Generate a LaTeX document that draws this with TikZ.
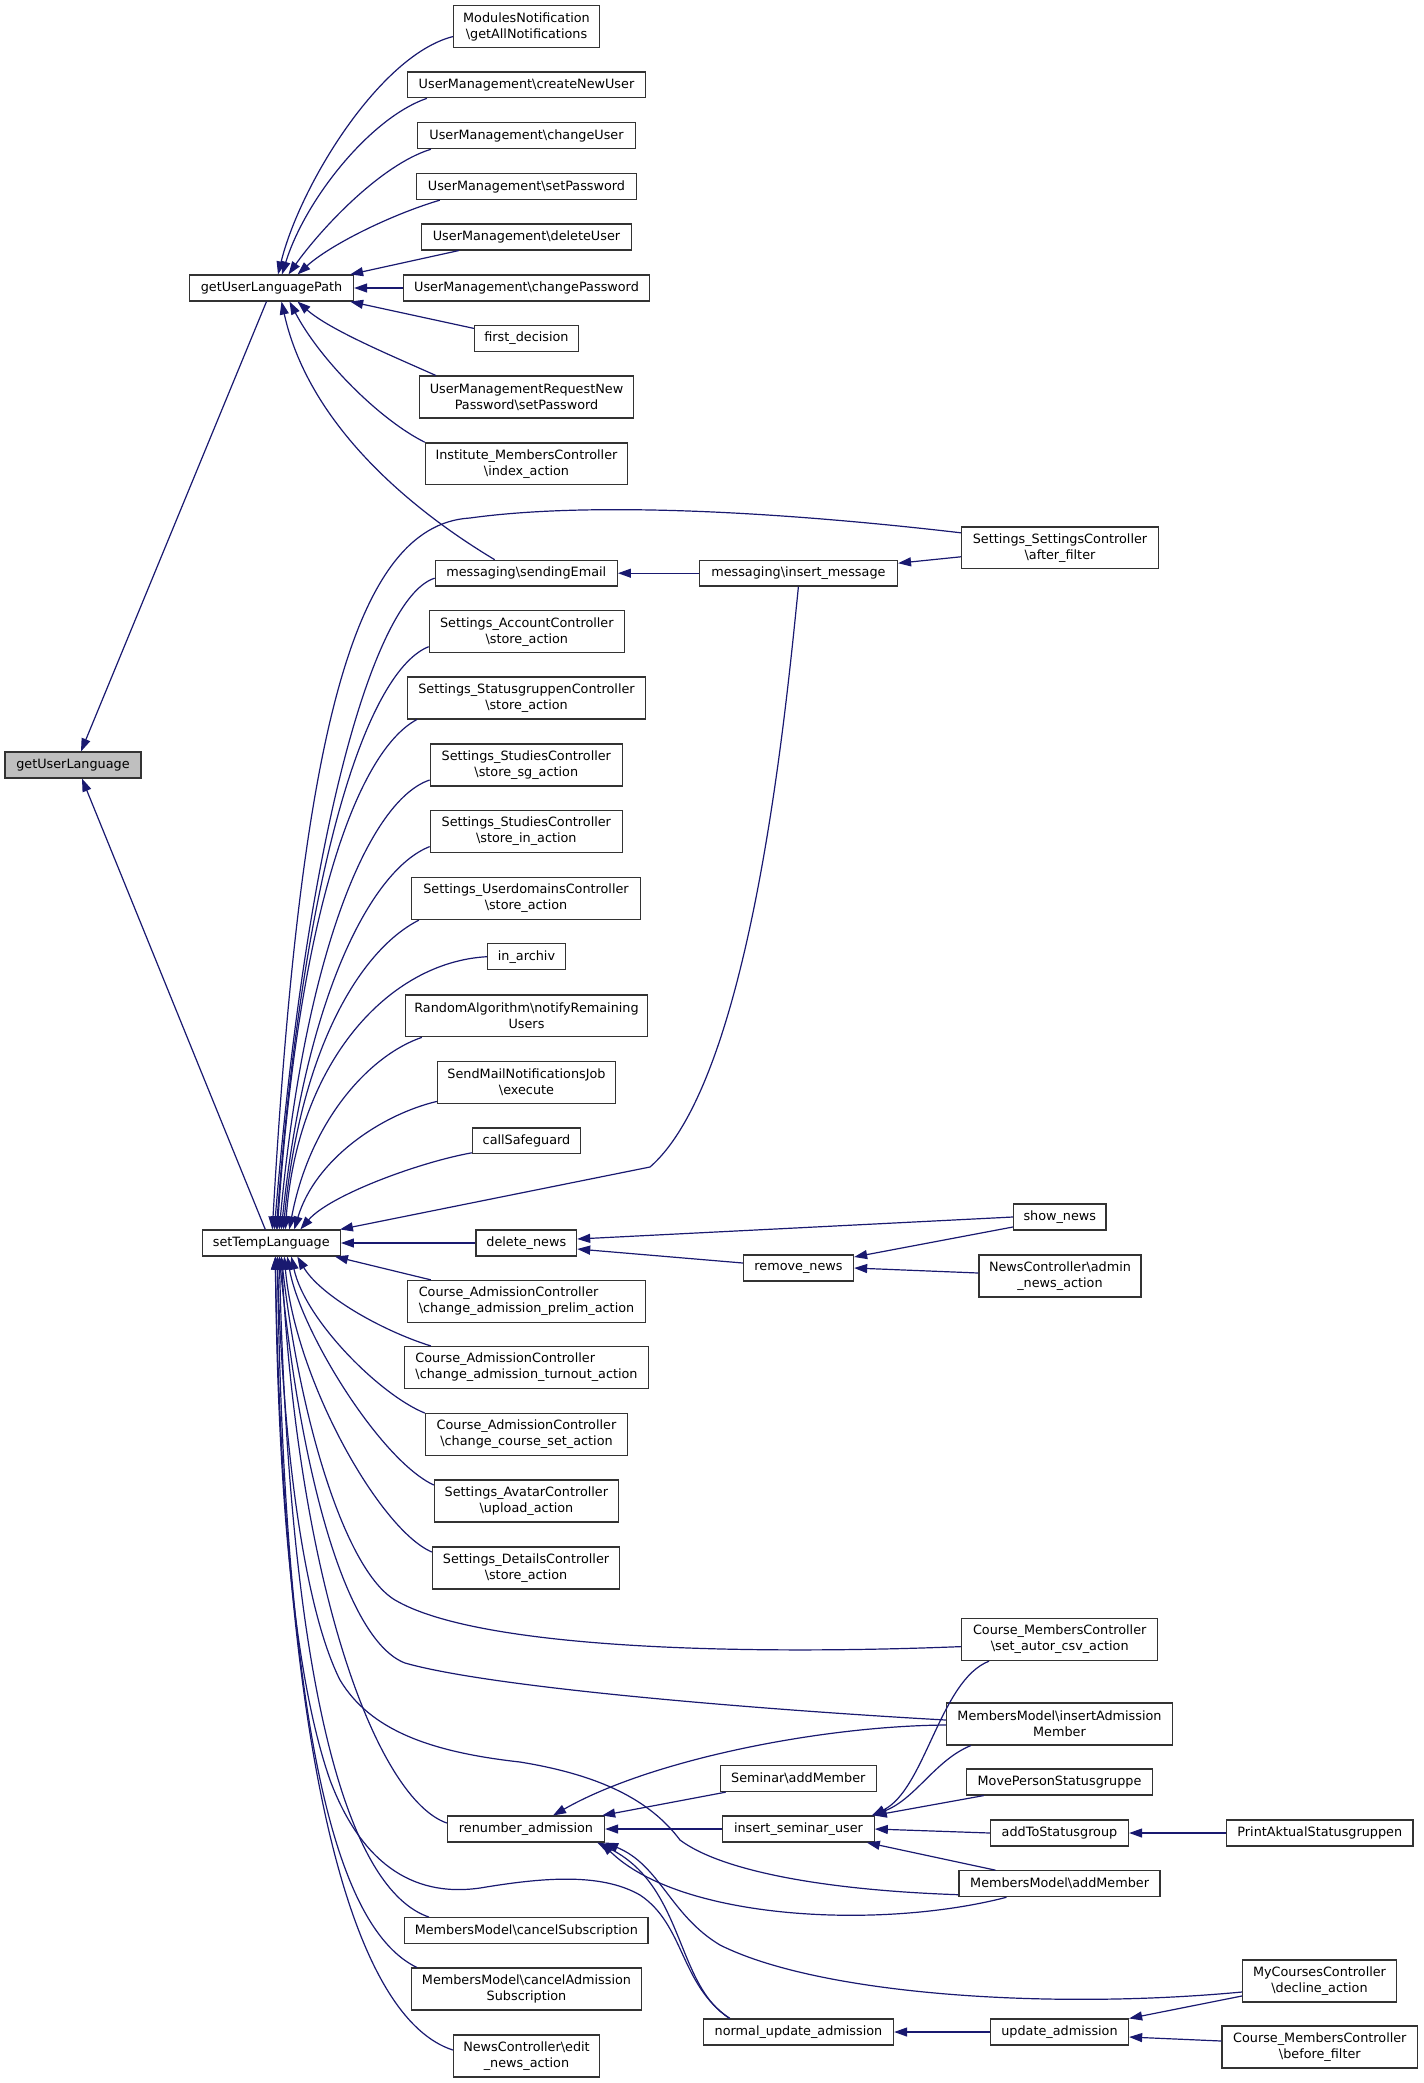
\documentclass[tikz,border=0pt]{standalone}
\usepackage{fontspec}
\setmainfont{DejaVu Sans}
\usetikzlibrary{arrows.meta}
\definecolor{edgec}{HTML}{191970}
\definecolor{rootfill}{HTML}{BFBFBF}
\definecolor{boxline}{HTML}{333333}
\newcommand{\bsl}{\textbackslash}
\begin{document}
\begin{tikzpicture}[x=1pt,y=-1pt,
  box/.style={draw=boxline, line width=1.3pt, fill=white, inner sep=0pt,
    minimum height=25.8pt, font=\fontsize{12.8}{16}\selectfont, align=center},
  dbl/.style={box, minimum height=41.8pt},
  e/.style={draw=edgec, line width=1.2pt, -{Triangle[length=13pt,width=9pt]}}]
\fill[white] (0,0) rectangle (1424,2083);
\useasboundingbox (0,0) rectangle (1424,2083);

% column 0/1
\node[box, fill=rootfill, minimum width=136] (gul) at (73,765) {getUserLanguage};
\node[box, minimum width=164] (gulp) at (271.5,288) {getUserLanguagePath};
\node[box, minimum width=138] (stl) at (271.3,1243) {setTempLanguage};

% column 2
\node[dbl, minimum width=146] (mn) at (526.5,26.6) {ModulesNotification\\\bsl getAllNotifications};
\node[box, minimum width=238] (cnu) at (526.5,84.8) {UserManagement\bsl createNewUser};
\node[box, minimum width=218] (cu) at (526.5,135.7) {UserManagement\bsl changeUser};
\node[box, minimum width=220] (sp) at (526.5,186.6) {UserManagement\bsl setPassword};
\node[box, minimum width=210] (du) at (526.5,237) {UserManagement\bsl deleteUser};
\node[box, minimum width=246] (cp) at (526.5,288) {UserManagement\bsl changePassword};
\node[box, minimum width=104] (fd) at (526.5,338.4) {first\_decision};
\node[dbl, minimum width=214] (umr) at (526.5,397) {UserManagementRequestNew\\Password\bsl setPassword};
\node[dbl, minimum width=202] (imc) at (526.5,463.8) {Institute\_MembersController\\\bsl index\_action};
\node[box, minimum width=182] (se) at (526.3,573.2) {messaging\bsl sendingEmail};
\node[dbl, minimum width=195] (sac) at (526.8,631.7) {Settings\_AccountController\\\bsl store\_action};
\node[dbl, minimum width=238] (ssc) at (526.5,698) {Settings\_StatusgruppenController\\\bsl store\_action};
\node[dbl, minimum width=192] (ssg) at (526.3,765) {Settings\_StudiesController\\\bsl store\_sg\_action};
\node[dbl, minimum width=192] (sin) at (526.3,831.6) {Settings\_StudiesController\\\bsl store\_in\_action};
\node[dbl, minimum width=229] (sud) at (526,898.6) {Settings\_UserdomainsController\\\bsl store\_action};
\node[box, minimum width=78] (ia) at (526.5,956.7) {in\_archiv};
\node[dbl, minimum width=242] (ra) at (526.5,1015.8) {RandomAlgorithm\bsl notifyRemaining\\Users};
\node[dbl, minimum width=178] (smn) at (526.5,1082.4) {SendMailNotificationsJob\\\bsl execute};
\node[box, minimum width=108] (cs) at (526.5,1140.8) {callSafeguard};
\node[box, minimum width=100.5] (dn) at (526.3,1243) {delete\_news};
\node[dbl, minimum width=238, align=left] (cap) at (526.5,1301.4) {Course\_AdmissionController\\\bsl change\_admission\_prelim\_action};
\node[dbl, minimum width=244, align=left] (cat) at (526.5,1367.5) {Course\_AdmissionController\\\bsl change\_admission\_turnout\_action};
\node[dbl, minimum width=202] (ccs) at (526.5,1434.6) {Course\_AdmissionController\\\bsl change\_course\_set\_action};
\node[dbl, minimum width=184] (sav) at (526.4,1501) {Settings\_AvatarController\\\bsl upload\_action};
\node[dbl, minimum width=187] (sdc) at (526,1568) {Settings\_DetailsController\\\bsl store\_action};
\node[box, minimum width=157] (ra2) at (526,1829) {renumber\_admission};
\node[box, minimum width=243.5] (mcs) at (526.3,1930.6) {MembersModel\bsl cancelSubscription};
\node[dbl, minimum width=230] (mcas) at (526.5,1989) {MembersModel\bsl cancelAdmission\\Subscription};
\node[dbl, minimum width=146] (ned) at (526.5,2056) {NewsController\bsl edit\\\_news\_action};

% column 3
\node[box, minimum width=198] (im) at (798.4,573.2) {messaging\bsl insert\_message};
\node[box, minimum width=110] (rn) at (798.5,1268) {remove\_news};
\node[box, minimum width=156] (sam) at (798.3,1778.6) {Seminar\bsl addMember};
\node[box, minimum width=151.4] (isu) at (798.5,1829) {insert\_seminar\_user};
\node[box, minimum width=190] (nua) at (798.5,2032) {normal\_update\_admission};

% column 4
\node[dbl, minimum width=197] (af) at (1060,547.8) {Settings\_SettingsController\\\bsl after\_filter};
\node[box, minimum width=92.6] (sn) at (1059.8,1217) {show\_news};
\node[dbl, minimum width=162] (ana) at (1060,1276) {NewsController\bsl admin\\\_news\_action};
\node[dbl, minimum width=196] (sac2) at (1059.7,1639.6) {Course\_MembersController\\\bsl set\_autor\_csv\_action};
\node[dbl, minimum width=226] (iam) at (1059.5,1724) {MembersModel\bsl insertAdmission\\Member};
\node[box, minimum width=186] (mps) at (1059.5,1782) {MovePersonStatusgruppe};
\node[box, minimum width=138] (ats) at (1059.5,1833) {addToStatusgroup};
\node[box, minimum width=201] (mam) at (1059.6,1883.7) {MembersModel\bsl addMember};
\node[box, minimum width=138] (ua) at (1059.5,2032) {update\_admission};

% column 5
\node[box, minimum width=186.6] (pas) at (1319.8,1833) {PrintAktualStatusgruppen};
\node[dbl, minimum width=154] (mcd) at (1319.5,1981) {MyCoursesController\\\bsl decline\_action};
\node[dbl, minimum width=195.5] (cmb) at (1319.8,2047) {Course\_MembersController\\\bsl before\_filter};

% edges to getUserLanguage
\draw[e] ([xshift=-5]gulp.south) -- ([xshift=8]gul.north);
\draw[e] ([xshift=-6]stl.north) -- ([xshift=9]gul.south);

% edges to getUserLanguagePath
\draw[e] ([yshift=-10]mn.west) .. controls (380,55) and (300,185) .. ([xshift=6.5]gulp.north);
\draw[e] ([xshift=20]cnu.south west) .. controls (370,118) and (305,200) .. ([xshift=10.5]gulp.north);
\draw[e] ([xshift=14]cu.south west) .. controls (380,165) and (320,230) .. ([xshift=17]gulp.north);
\draw[e] ([xshift=24]sp.south west) .. controls (390,215) and (330,245) .. ([xshift=26]gulp.north);
\draw[e] ([xshift=38]du.south west) -- ([xshift=-4]gulp.north east);
\draw[e] (cp.west) -- (gulp.east);
\draw[e] ([yshift=10]fd.west) -- ([xshift=-4]gulp.south east);
\draw[e] ([xshift=17]umr.north west) .. controls (390,355) and (330,330) .. ([xshift=26]gulp.south);
\draw[e] (imc.north west) .. controls (380,420) and (320,360) .. ([xshift=18]gulp.south);
\draw[e] ([xshift=60]se.north west) .. controls (420,515) and (310,430) .. ([xshift=10]gulp.south);

% messaging
\draw[e] (im.west) -- (se.east);
\draw[e] ([yshift=-9]af.west) -- ([yshift=10]im.east);

% edges to setTempLanguage from above
\draw[e] ([yshift=15]af.west) .. controls (800,514) and (600,500) .. (470,518) .. controls (350,525) and (300,750) .. ([xshift=1]stl.north);
\draw[e] ([yshift=-5]se.west) .. controls (380,595) and (310,800) .. ([xshift=3]stl.north);
\draw[e] ([yshift=-15]sac.west) .. controls (370,670) and (305,850) .. ([xshift=5]stl.north);
\draw[e] ([xshift=10]ssc.south west) .. controls (360,750) and (300,900) .. ([xshift=6]stl.north);
\draw[e] ([yshift=-15]ssg.west) .. controls (370,800) and (305,950) .. ([xshift=8]stl.north);
\draw[e] ([yshift=-15]sin.west) .. controls (370,870) and (305,1000) .. ([xshift=10]stl.north);
\draw[e] ([xshift=8]sud.south west) .. controls (360,950) and (300,1050) .. ([xshift=12]stl.north);
\draw[e] (ia.west) .. controls (390,962) and (298,1060) .. ([xshift=14]stl.north);
\draw[e] ([xshift=17]ra.south west) .. controls (370,1055) and (310,1120) .. ([xshift=18]stl.north);
\draw[e] ([yshift=-19]smn.west) .. controls (380,1115) and (315,1160) .. ([xshift=23]stl.north);
\draw[e] ([yshift=-12]cs.west) .. controls (420,1162) and (330,1195) .. ([xshift=29]stl.north);
\draw[e] (im.south) .. controls (785,720) and (750,1080) .. (650,1167) -- ([xshift=-1]stl.north east);
\draw[e] (dn.west) -- (stl.east);

% edges to setTempLanguage from below
\draw[e] ([xshift=24]cap.north west) -- ([xshift=-6]stl.south east);
\draw[e] ([xshift=27]cat.north west) .. controls (380,1330) and (320,1295) .. ([xshift=26]stl.south);
\draw[e] (ccs.north west) .. controls (380,1395) and (305,1320) .. ([xshift=20]stl.south);
\draw[e] ([yshift=16]sav.west) .. controls (380,1460) and (300,1330) .. ([xshift=16]stl.south);
\draw[e] ([yshift=16]sdc.west) .. controls (380,1530) and (295,1380) .. ([xshift=13]stl.south);
\draw[e] ([yshift=-7]sac2.west) .. controls (750,1655) and (480,1650) .. (395,1600) .. controls (345,1570) and (300,1420) .. ([xshift=10]stl.south);
\draw[e] ([yshift=4]iam.west) .. controls (800,1712) and (500,1690) .. (405,1663) .. controls (345,1640) and (300,1470) .. ([xshift=8]stl.south);
\draw[e] ([yshift=-11]mam.west) .. controls (820,1890) and (720,1870) .. (680,1840) .. controls (650,1800) and (600,1775) .. (520,1762) .. controls (430,1752) and (370,1730) .. (340,1680) .. controls (300,1600) and (282,1420) .. ([xshift=6]stl.south);
\draw[e] ([yshift=6]ra2.west) .. controls (380,1800) and (300,1600) .. ([xshift=10]stl.south);
\draw[e] ([xshift=27]nua.north west) .. controls (680,1985) and (685,1925) .. (640,1895) .. controls (600,1872) and (540,1878) .. (480,1888) .. controls (410,1898) and (360,1860) .. (330,1780) .. controls (295,1680) and (278,1500) .. ([xshift=4]stl.south);
\draw[e] ([xshift=25]mcs.north west) .. controls (350,1890) and (290,1700) .. ([xshift=8]stl.south);
\draw[e] ([xshift=6]mcas.north west) .. controls (340,1930) and (285,1750) .. ([xshift=6]stl.south);
\draw[e] ([yshift=6]ned.west) .. controls (360,2020) and (285,1800) .. ([xshift=4]stl.south);

% news
\draw[e] (sn.west) -- ([yshift=4]dn.east);
\draw[e] ([yshift=5]rn.west) -- ([yshift=-6]dn.east);
\draw[e] ([yshift=-10]sn.west) -- ([yshift=11]rn.east);
\draw[e] ([yshift=3]ana.west) -- (rn.east);

% insert_seminar_user
\draw[e] ([xshift=28]sac2.south west) .. controls (940,1680) and (925,1790) .. ([xshift=-3]isu.north east);
\draw[e] ([xshift=25]iam.south west) .. controls (935,1760) and (915,1800) .. ([xshift=-3]isu.north east);
\draw[e] ([xshift=18]mps.south west) -- ([xshift=-1]isu.north east);
\draw[e] (ats.west) -- (isu.east);
\draw[e] ([xshift=37]mam.north west) -- ([xshift=-8]isu.south east);
\draw[e] (pas.west) -- (ats.east);

% renumber_admission
\draw[e] ([xshift=6]sam.south west) -- ([xshift=-3]ra2.north east);
\draw[e] (isu.west) -- (ra2.east);
\draw[e] ([yshift=-1]iam.west) .. controls (820,1726) and (650,1760) .. ([xshift=27]ra2.north);
\draw[e] ([xshift=48]mam.south west) .. controls (880,1930) and (680,1920) .. ([xshift=-4]ra2.south east);
\draw[e] ([yshift=-11]mcd.west) .. controls (1050,2010) and (820,1995) .. (720,1945) .. controls (670,1915) and (660,1865) .. ([xshift=0]ra2.south east);
\draw[e] ([xshift=27]nua.north west) .. controls (675,1985) and (685,1885) .. ([xshift=-8]ra2.south east);

% update_admission
\draw[e] (ua.west) -- (nua.east);
\draw[e] ([yshift=-15]mcd.west) -- (ua.north east);
\draw[e] ([yshift=6]cmb.west) -- ([yshift=-5]ua.east);
\end{tikzpicture}
\end{document}
